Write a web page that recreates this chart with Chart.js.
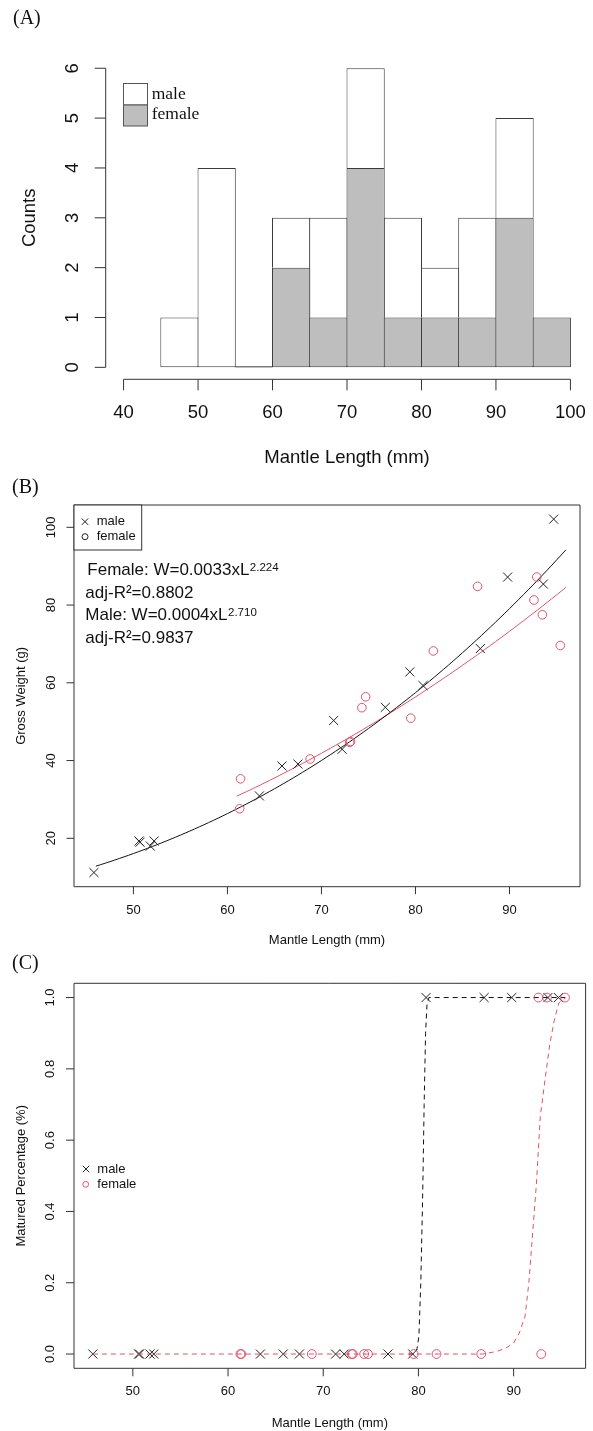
<!DOCTYPE html>
<html>
<head>
<meta charset="utf-8">
<script src="https://cdn.jsdelivr.net/npm/chart.js@4.4.0/dist/chart.umd.min.js"></script>
<style>
  body { margin: 0; background: #fff; }
  #wrap { position: relative; width: 593px; height: 1431px; overflow: hidden; }
  canvas { position: absolute; left: 0; }
</style>
</head>
<body>
<div id="wrap">
  <canvas id="histA" width="593" height="470" style="top:0px"></canvas>
  <canvas id="weightB" width="593" height="480" style="top:470px"></canvas>
  <canvas id="matureC" width="593" height="481" style="top:950px"></canvas>
</div>
<script>
// ---- (A) length-frequency histogram, 5 mm bins ----
const histBinStart = [45, 50, 55, 60, 65, 70, 75, 80, 85, 90, 95];
const histBinWidth = 5;
const histMale = [1, 4, 0, 1, 2, 2, 2, 1, 2, 2, 0];
const histFemale = [0, 0, 0, 2, 1, 4, 1, 1, 1, 3, 1];
const histTicksX = [40, 50, 60, 70, 80, 90, 100];
const histTicksY = [0, 1, 2, 3, 4, 5, 6];

// ---- individual squid: mantle length (mm), gross weight (g), maturity (0/1) ----
const maleLength = [45.8, 50.6, 50.7, 51.8, 52.2, 63.4, 65.8, 67.5, 71.3, 72.2, 76.8, 79.4, 80.8, 86.9, 89.8, 93.6, 94.7];
const maleWeight = [11.2, 19.3, 19.0, 18.0, 19.3, 30.9, 38.6, 39.1, 50.3, 42.9, 53.7, 62.8, 59.3, 68.8, 87.2, 85.4, 102.1];
const maleMature = [0, 0, 0, 0, 0, 0, 0, 0, 0, 0, 0, 0, 1, 1, 1, 1, 1];

const femaleLength = [61.3, 61.4, 68.8, 73.0, 73.1, 74.3, 74.7, 79.5, 81.9, 86.6, 92.6, 92.9, 93.5, 95.4];
const femaleWeight = [27.6, 35.3, 40.4, 44.7, 44.9, 53.6, 56.4, 50.9, 68.2, 84.8, 81.3, 87.2, 77.5, 69.6];
const femaleMature = [0, 0, 0, 0, 0, 0, 0, 0, 0, 0, 1, 0, 1, 1];

// length-weight fits W = a * L^b
const femaleFitCoef = [0.0033, 2.224];
const maleFitCoef = [0.0004, 2.710];
const femaleFitRange = [61, 96];
const maleFitRange = [46, 96];
const weightTicksX = [50, 60, 70, 80, 90];
const weightTicksY = [20, 40, 60, 80, 100];

// maturity ogives (male flat part at 0 sits under the female line)
const maleOgiveLength = [79.0, 79.6, 79.85, 80.05, 80.25, 80.45, 80.6, 80.75, 80.9, 81.1, 95.4];
const maleOgiveP = [0, 0, 0.015, 0.05, 0.2, 0.45, 0.7, 0.9, 0.98, 1, 1];
const femaleOgiveLength = [45.8, 86.7, 88.2, 89.2, 90.0, 90.6, 91.2, 91.6, 92.0, 92.4, 92.8, 93.35, 93.8, 94.3, 94.75, 95.5];
const femaleOgiveP = [0, 0, 0.007, 0.017, 0.031, 0.059, 0.106, 0.2, 0.34, 0.48, 0.667, 0.78, 0.87, 0.94, 0.985, 1];
const matureTicksX = [50, 60, 70, 80, 90];
const matureTicksY = [0, 0.2, 0.4, 0.6, 0.8, 1.0];

const SANS = '"Liberation Sans", Arial, Helvetica, sans-serif';
const SERIF = '"Liberation Serif", "Times New Roman", serif';
const PINK = '#DF536B';
const INK = '#222';

function toPoints(xs, ys) {
  return xs.map((v, i) => ({ x: v, y: ys[i] }));
}

function fitCurve(coef, range) {
  const pts = [];
  for (let L = range[0]; L <= range[1] + 1e-9; L += 0.5) {
    pts.push({ x: L, y: coef[0] * Math.pow(L, coef[1]) });
  }
  return pts;
}

// R-style axes: ticks outside, rotated y labels, optional box
function rAxes(spec) {
  return {
    id: 'rAxes',
    afterDraw(chart) {
      const { ctx, chartArea: a } = chart;
      const xs = chart.scales.x, ys = chart.scales.y;
      ctx.save();
      ctx.strokeStyle = spec.lineColor;
      ctx.lineWidth = 1;
      ctx.beginPath();
      if (spec.box) {
        ctx.rect(a.left, a.top, a.right - a.left, a.bottom - a.top);
      } else {
        ctx.moveTo(a.left, ys.getPixelForValue(spec.yTicks[0]));
        ctx.lineTo(a.left, ys.getPixelForValue(spec.yTicks[spec.yTicks.length - 1]));
        ctx.moveTo(xs.getPixelForValue(spec.xTicks[0]), a.bottom);
        ctx.lineTo(xs.getPixelForValue(spec.xTicks[spec.xTicks.length - 1]), a.bottom);
      }
      spec.yTicks.forEach(v => {
        const p = ys.getPixelForValue(v);
        ctx.moveTo(a.left, p);
        ctx.lineTo(a.left - spec.tickLen, p);
      });
      spec.xTicks.forEach(v => {
        const p = xs.getPixelForValue(v);
        ctx.moveTo(p, a.bottom);
        ctx.lineTo(p, a.bottom + spec.tickLen);
      });
      ctx.stroke();

      ctx.fillStyle = '#111';
      ctx.textAlign = 'center';
      ctx.textBaseline = 'middle';
      ctx.font = spec.tickSize + 'px ' + SANS;
      spec.xTicks.forEach(v => ctx.fillText(String(v), xs.getPixelForValue(v), spec.xLabelY));
      spec.yTicks.forEach(v => {
        ctx.save();
        ctx.translate(spec.yLabelX, ys.getPixelForValue(v));
        ctx.rotate(-Math.PI / 2);
        ctx.fillText(v.toFixed(spec.yDigits), 0, 0);
        ctx.restore();
      });

      ctx.font = spec.titleSize + 'px ' + SANS;
      ctx.fillText(spec.xTitle, (a.left + a.right) / 2, spec.xTitleY);
      ctx.save();
      ctx.translate(spec.yTitleX, (a.top + a.bottom) / 2);
      ctx.rotate(-Math.PI / 2);
      ctx.fillText(spec.yTitle, 0, 0);
      ctx.restore();

      ctx.font = '20px ' + SERIF;
      ctx.textAlign = 'left';
      ctx.fillText(spec.tag, spec.tagX, spec.tagY);
      ctx.restore();
    }
  };
}

function drawCross(ctx, x, y, h, color) {
  ctx.strokeStyle = color;
  ctx.beginPath();
  ctx.moveTo(x - h, y - h); ctx.lineTo(x + h, y + h);
  ctx.moveTo(x + h, y - h); ctx.lineTo(x - h, y + h);
  ctx.stroke();
}

function drawRing(ctx, x, y, r, color) {
  ctx.strokeStyle = color;
  ctx.beginPath();
  ctx.arc(x, y, r, 0, Math.PI * 2);
  ctx.stroke();
}

const quiet = {
  responsive: false,
  animation: false,
  events: [],
};

// ---------------- (A) ----------------
new Chart(document.getElementById('histA'), {
  type: 'bar',
  data: {
    datasets: [
      {
        label: 'female',
        data: toPoints(histBinStart.map(s => s + histBinWidth / 2), histFemale),
        backgroundColor: '#bebebe',
        borderColor: '#3a3a3a',
        borderWidth: 1,
        borderSkipped: false,
        barPercentage: 1.027,
        categoryPercentage: 1,
        stack: 'all',
      },
      {
        label: 'male',
        data: toPoints(histBinStart.map(s => s + histBinWidth / 2), histMale),
        backgroundColor: '#ffffff',
        borderColor: '#3a3a3a',
        borderWidth: 1,
        borderSkipped: ctx => (histFemale[ctx.dataIndex] > 0 ? 'start' : false),
        barPercentage: 1.027,
        categoryPercentage: 1,
        stack: 'all',
      },
    ],
  },
  options: {
    ...quiet,
    layout: { padding: { left: 105.7, top: 56.3, right: 4.7, bottom: 90.7 } },
    scales: {
      x: {
        type: 'linear', display: false, min: 37.6, max: 102.4, offset: false, stacked: true,
        afterBuildTicks: ax => { ax.ticks = histTicksX.map(v => ({ value: v })); },
      },
      y: {
        type: 'linear', display: false, min: -0.24, max: 6.24, stacked: true,
        afterBuildTicks: ax => { ax.ticks = histTicksY.map(v => ({ value: v })); },
      },
    },
    plugins: { legend: { display: false }, tooltip: { enabled: false } },
  },
  plugins: [
    rAxes({
      box: false, lineColor: '#333', tickLen: 11,
      xTicks: histTicksX, yTicks: histTicksY, yDigits: 0,
      tickSize: 18.5, titleSize: 18.5,
      xLabelY: 413.3, yLabelX: 73.3,
      xTitle: 'Mantle Length (mm)', xTitleY: 458,
      yTitle: 'Counts', yTitleX: 29.5,
      tag: '(A)', tagX: 13, tagY: 19,
    }),
    {
      id: 'histExtras',
      afterDatasetsDraw(chart) {
        const { ctx } = chart;
        const xs = chart.scales.x, ys = chart.scales.y;
        ctx.save();
        ctx.strokeStyle = '#3a3a3a';
        ctx.lineWidth = 1;
        // empty bins still show their baseline
        histBinStart.forEach((s, i) => {
          if (histMale[i] + histFemale[i] === 0) {
            const y0 = ys.getPixelForValue(0) - 0.5;
            ctx.beginPath();
            ctx.moveTo(xs.getPixelForValue(s), y0);
            ctx.lineTo(xs.getPixelForValue(s + histBinWidth), y0);
            ctx.stroke();
          }
        });
        // legend
        ctx.strokeStyle = '#555';
        ctx.fillStyle = '#fff';
        ctx.fillRect(123.5, 83.5, 24, 21.5);
        ctx.strokeRect(123.5, 83.5, 24, 21.5);
        ctx.fillStyle = '#bebebe';
        ctx.fillRect(123.5, 105, 24, 21);
        ctx.strokeRect(123.5, 105, 24, 21);
        ctx.fillStyle = '#111';
        ctx.font = '17.5px ' + SERIF;
        ctx.textAlign = 'left';
        ctx.textBaseline = 'middle';
        ctx.fillText('male', 151.7, 94.5);
        ctx.fillText('female', 151.7, 114);
        ctx.restore();
      },
    },
  ],
});

// ---------------- (B) ----------------
new Chart(document.getElementById('weightB'), {
  type: 'scatter',
  data: {
    datasets: [
      {
        label: 'male',
        data: toPoints(maleLength, maleWeight),
        pointStyle: 'crossRot', pointRadius: 6.4, borderColor: INK, borderWidth: 1,
        order: 1,
      },
      {
        label: 'female',
        data: toPoints(femaleLength, femaleWeight),
        pointStyle: 'circle', pointRadius: 4.3, borderColor: PINK, backgroundColor: 'rgba(0,0,0,0)', borderWidth: 1,
        order: 2,
      },
      {
        label: 'male fit',
        data: fitCurve(maleFitCoef, maleFitRange),
        showLine: true, pointRadius: 0, borderColor: '#111', borderWidth: 1,
        order: 3,
      },
      {
        label: 'female fit',
        data: fitCurve(femaleFitCoef, femaleFitRange),
        showLine: true, pointRadius: 0, borderColor: PINK, borderWidth: 1,
        order: 4,
      },
    ],
  },
  options: {
    ...quiet,
    layout: { padding: { left: 74, top: 35, right: 13, bottom: 63.3 } },
    scales: {
      x: { type: 'linear', display: false, min: 43.68, max: 97.5 },
      y: { type: 'linear', display: false, min: 7.55, max: 105.74 },
    },
    plugins: { legend: { display: false }, tooltip: { enabled: false } },
  },
  plugins: [
    rAxes({
      box: true, lineColor: '#333', tickLen: 7.5,
      xTicks: weightTicksX, yTicks: weightTicksY, yDigits: 0,
      tickSize: 13, titleSize: 13,
      xLabelY: 440.7, yLabelX: 51,
      xTitle: 'Mantle Length (mm)', xTitleY: 470.8,
      yTitle: 'Gross Weight (g)', yTitleX: 21,
      tag: '(B)', tagX: 12, tagY: 18,
    }),
    {
      id: 'weightNotes',
      afterDraw(chart) {
        const { ctx, chartArea: a } = chart;
        ctx.save();
        ctx.lineWidth = 1;
        // legend box
        ctx.fillStyle = '#fff';
        ctx.strokeStyle = '#333';
        ctx.fillRect(a.left, a.top, 141.7 - a.left, 80 - a.top);
        ctx.strokeRect(a.left, a.top, 141.7 - a.left, 80 - a.top);
        drawCross(ctx, 85, 51.7, 3.2, INK);
        drawRing(ctx, 85, 66.7, 3, INK);
        ctx.fillStyle = '#111';
        ctx.font = '13px ' + SANS;
        ctx.textAlign = 'left';
        ctx.textBaseline = 'middle';
        ctx.fillText('male', 96.7, 51.7);
        ctx.fillText('female', 96.7, 66.7);

        // fitted equations
        ctx.textBaseline = 'alphabetic';
        const big = '17px ' + SANS, small = '11.5px ' + SANS;
        const eq = (main, sup, x, y) => {
          ctx.font = big;
          ctx.fillText(main, x, y);
          if (sup) {
            const w = ctx.measureText(main).width;
            ctx.font = small;
            ctx.fillText(sup, x + w + 0.5, y - 4);
          }
        };
        eq('Female: W=' + femaleFitCoef[0].toFixed(4) + 'xL', femaleFitCoef[1].toFixed(3), 87.3, 104.5);
        eq('adj-R\u00b2=0.8802', null, 85.3, 127.5);
        eq('Male: W=' + maleFitCoef[0].toFixed(4) + 'xL', maleFitCoef[1].toFixed(3), 85.3, 150.2);
        eq('adj-R\u00b2=0.9837', null, 85.3, 172.5);
        ctx.restore();
      },
    },
  ],
});

// ---------------- (C) ----------------
new Chart(document.getElementById('matureC'), {
  type: 'scatter',
  data: {
    datasets: [
      {
        label: 'female ogive',
        data: toPoints(femaleOgiveLength, femaleOgiveP),
        showLine: true, pointRadius: 0, borderColor: PINK, borderWidth: 1, borderDash: [5, 4],
        order: 1,
      },
      {
        label: 'female',
        data: toPoints(femaleLength, femaleMature),
        pointStyle: 'circle', pointRadius: 4.4, borderColor: PINK, backgroundColor: 'rgba(0,0,0,0)', borderWidth: 1,
        order: 2,
      },
      {
        label: 'male',
        data: toPoints(maleLength, maleMature),
        pointStyle: 'crossRot', pointRadius: 6.4, borderColor: INK, borderWidth: 1,
        order: 3,
      },
      {
        label: 'male ogive',
        data: toPoints(maleOgiveLength, maleOgiveP),
        showLine: true, pointRadius: 0, borderColor: '#111', borderWidth: 1, borderDash: [5, 4],
        order: 4,
      },
    ],
  },
  options: {
    ...quiet,
    layout: { padding: { left: 74, top: 33.3, right: 6, bottom: 62.7 } },
    scales: {
      x: { type: 'linear', display: false, min: 43.82, max: 97.56 },
      y: { type: 'linear', display: false, min: -0.04, max: 1.04 },
    },
    plugins: { legend: { display: false }, tooltip: { enabled: false } },
  },
  plugins: [
    rAxes({
      box: true, lineColor: '#333', tickLen: 8,
      xTicks: matureTicksX, yTicks: matureTicksY, yDigits: 1,
      tickSize: 13, titleSize: 13,
      xLabelY: 441.7, yLabelX: 50.6,
      xTitle: 'Mantle Length (mm)', xTitleY: 473.3,
      yTitle: 'Matured Percentage (%)', yTitleX: 21,
      tag: '(C)', tagX: 12, tagY: 14,
    }),
    {
      id: 'matureLegend',
      afterDraw(chart) {
        const { ctx } = chart;
        ctx.save();
        ctx.lineWidth = 1;
        drawCross(ctx, 86, 219, 3.2, INK);
        drawRing(ctx, 85.7, 234.3, 2.9, PINK);
        ctx.fillStyle = '#111';
        ctx.font = '13px ' + SANS;
        ctx.textAlign = 'left';
        ctx.textBaseline = 'middle';
        ctx.fillText('male', 97.3, 219);
        ctx.fillText('female', 97.3, 234.3);
        ctx.restore();
      },
    },
  ],
});
</script>
</body>
</html>
